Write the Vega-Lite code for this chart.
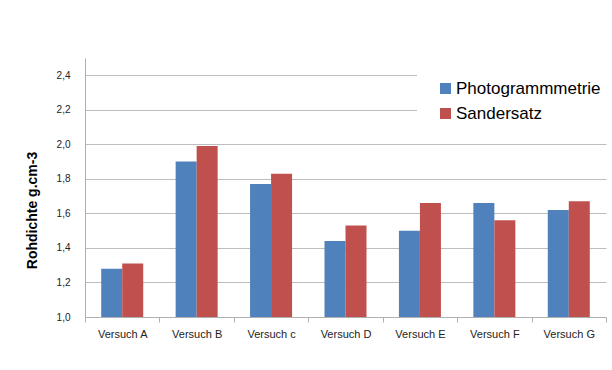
{
  "$schema": "https://vega.github.io/schema/vega-lite/v6.json",
  "autosize": {"type": "none"},
  "padding": {"left": 85, "top": 58, "right": 6, "bottom": 53},
  "width": 521,
  "height": 259,
  "background": "white",
  "config": {
    "font": "Liberation Sans",
    "view": {"stroke": null}
  },
  "data": {
    "values": [
      {"versuch": "Versuch A", "methode": "Photogrammmetrie", "rohdichte": 1.28},
      {"versuch": "Versuch A", "methode": "Sandersatz", "rohdichte": 1.31},
      {"versuch": "Versuch B", "methode": "Photogrammmetrie", "rohdichte": 1.90},
      {"versuch": "Versuch B", "methode": "Sandersatz", "rohdichte": 1.99},
      {"versuch": "Versuch c", "methode": "Photogrammmetrie", "rohdichte": 1.77},
      {"versuch": "Versuch c", "methode": "Sandersatz", "rohdichte": 1.83},
      {"versuch": "Versuch D", "methode": "Photogrammmetrie", "rohdichte": 1.44},
      {"versuch": "Versuch D", "methode": "Sandersatz", "rohdichte": 1.53},
      {"versuch": "Versuch E", "methode": "Photogrammmetrie", "rohdichte": 1.50},
      {"versuch": "Versuch E", "methode": "Sandersatz", "rohdichte": 1.66},
      {"versuch": "Versuch F", "methode": "Photogrammmetrie", "rohdichte": 1.66},
      {"versuch": "Versuch F", "methode": "Sandersatz", "rohdichte": 1.56},
      {"versuch": "Versuch G", "methode": "Photogrammmetrie", "rohdichte": 1.62},
      {"versuch": "Versuch G", "methode": "Sandersatz", "rohdichte": 1.67}
    ]
  },
  "mark": {"type": "bar"},
  "encoding": {
    "x": {
      "field": "versuch",
      "type": "nominal",
      "sort": null,
      "scale": {"paddingInner": 0, "paddingOuter": 0},
      "axis": {
        "title": null,
        "labelAngle": 0,
        "labelFontSize": 11,
        "labelColor": "#222222",
        "labelPadding": 6,
        "tickBand": "extent",
        "tickSize": 5,
        "tickColor": "#B0B0B0",
        "domainColor": "#B0B0B0",
        "grid": false
      }
    },
    "xOffset": {
      "field": "methode",
      "type": "nominal",
      "sort": ["Photogrammmetrie", "Sandersatz"],
      "scale": {"paddingInner": 0, "paddingOuter": 0.772}
    },
    "y": {
      "field": "rohdichte",
      "type": "quantitative",
      "scale": {"domain": [1, 2.5], "zero": false, "nice": false},
      "axis": {
        "title": "Rohdichte g.cm-3",
        "titleFont": "Liberation Sans",
        "titleFontSize": 14,
        "titleFontWeight": "bold",
        "titleColor": "#000000",
        "titlePadding": 17,
        "titleY": 152,
        "titleAlign": "center",
        "values": [1, 1.2, 1.4, 1.6, 1.8, 2, 2.2, 2.4],
        "labelExpr": "replace(format(datum.value, '.1f'), '.', ',')",
        "labelFontSize": 10,
        "labelColor": "#222222",
        "labelPadding": 15,
        "tickSize": 0,
        "domainColor": "#B0B0B0",
        "gridColor": "#BDBDBD",
        "grid": true
      }
    },
    "y2": {"datum": 1},
    "color": {
      "field": "methode",
      "type": "nominal",
      "scale": {
        "domain": ["Photogrammmetrie", "Sandersatz"],
        "range": ["#4F81BD", "#C0504D"]
      },
      "legend": {
        "title": null,
        "orient": "none",
        "legendX": 332,
        "legendY": 2,
        "padding": 20,
        "fillColor": "white",
        "symbolType": "square",
        "symbolSize": 121,
        "symbolStrokeWidth": 0,
        "labelFontSize": 17,
        "labelColor": "#000000",
        "labelOffset": 2,
        "labelLimit": 300,
        "rowPadding": 7
      }
    }
  }
}
